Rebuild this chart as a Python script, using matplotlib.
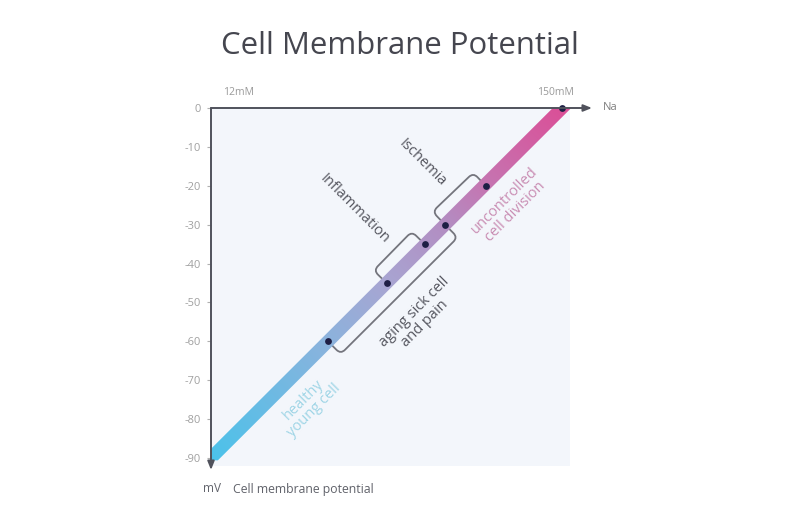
import numpy as np
import matplotlib
matplotlib.use("Agg")
import matplotlib.pyplot as plt
from matplotlib.patches import Polygon, PathPatch, Rectangle
from matplotlib.path import Path
from matplotlib.transforms import IdentityTransform
from matplotlib.colors import LinearSegmentedColormap

plt.rcParams['font.family'] = ['Open Sans', 'DejaVu Sans']

# ---------------- data ----------------
title = "Cell Membrane Potential"
potential_ticks = [0, -10, -20, -30, -40, -50, -60, -70, -80, -90]
potential_labels = ["0", "-10", "-20", "-30", "-40", "-50", "-60", "-70", "-80", "-90"]
sodium_labels = ["12mM", "150mM"]
sodium_label_pos = [12, 150]

line_na = [12, 150]        # Na concentration (mM) at the ends of the band
line_mv = [-90, 0]         # potential (mV) at the ends of the band

stage_na = [58, 81, 96, 104, 120, 150]
stage_mv = [-60, -45, -35, -30, -20, 0]

# brackets: (start index, end index, side)  side=+1 upper-left, -1 lower-right
bracket_idx = [(0, 3, -1), (1, 2, 1), (3, 4, 1)]

stage_texts = ["Inflammation", "Ischemia", "uncontrolled\ncell division",
               "aging sick cell\nand pain", "healthy\nyoung cell"]
stage_text_na = [68.5, 95.0, 129.5, 94.0, 50.5]
stage_text_mv = [-26.0, -14.2, -25.3, -54.0, -76.4]
stage_text_rot = [-45, -45, 45, 45, 45]
stage_text_col = ["#55565f", "#55565f", "#c98db3", "#55565f", "#9fd5e6"]

band_colors = ["#4cc2ea", "#8bb3dd", "#a8a5d2", "#b38dc2", "#c576b2", "#da5098"]
band_stops = [0.0, 0.33, 0.5, 0.67, 0.78, 1.0]

# ---------------- figure ----------------
W, H = 800, 524
fig = plt.figure(figsize=(W / 100, H / 100), dpi=100)
fig.patch.set_facecolor("white")

# axes box in pixels
x0p, x1p, ytop, ybot = 211, 592, 108, 470
ax = fig.add_axes([x0p / W, 1 - ybot / H, (x1p - x0p) / W, (ybot - ytop) / H])
px_per_mv = 350 / 90.0
mm_per_px = 138 / 351.0
ax.set_ylim(-(ybot - ytop) / px_per_mv, 0)
ax.set_xlim(12, 12 + (x1p - x0p) * mm_per_px)
ax.set_facecolor("none")
for s in ax.spines.values():
    s.set_visible(False)

# light tinted plotting field
ax.add_patch(Rectangle((12, -(466 - ytop) / px_per_mv), (570 - x0p) * mm_per_px,
                       (466 - ytop) / px_per_mv, facecolor="#f3f6fb", edgecolor="none", zorder=0))

# axes arrows
ax.annotate("", xy=(1, 1), xytext=(0, 1), xycoords="axes fraction",
            arrowprops=dict(arrowstyle="-|>,head_length=0.5,head_width=0.2", color="#50525c", lw=1.4,
                            shrinkA=0, shrinkB=0), zorder=6)
ax.annotate("", xy=(0, 0), xytext=(0, 1), xycoords="axes fraction",
            arrowprops=dict(arrowstyle="-|>,head_length=0.5,head_width=0.2", color="#50525c", lw=1.4,
                            shrinkA=0, shrinkB=0), zorder=6)

ax.set_yticks(potential_ticks)
ax.set_yticklabels(potential_labels)
ax.tick_params(axis="y", length=3, width=0.8, color="#b0b0b0", labelcolor="#a0a0a0",
               labelsize=8, pad=4)
ax.set_xticks([])

# ---------------- gradient band ----------------
T = ax.transData
pA = T.transform((line_na[0], line_mv[0]))
pB = T.transform((line_na[1], line_mv[1]))
slope = (pB[1] - pA[1]) / (pB[0] - pA[0])
half_w = 6.5 * np.sqrt(1 + slope ** 2) / slope  # horizontal half width in px
yb = T.transform((0, -90.6))[1]
yt = pB[1]
def x_on(y):
    return pA[0] + (y - pA[1]) / slope
band_poly = Polygon([(x_on(yb) - half_w, yb), (x_on(yb) + half_w, yb),
                     (x_on(yt) + half_w, yt), (x_on(yt) - half_w, yt)],
                    closed=True, transform=IdentityTransform(), facecolor="none", edgecolor="none")
ax.add_patch(band_poly)

cmap = LinearSegmentedColormap.from_list("band", list(zip(band_stops, band_colors)))
xlo, xhi = ax.get_xlim()
ylo, yhi = ax.get_ylim()
gx, gy = np.meshgrid(np.linspace(xlo, xhi, 400), np.linspace(ylo, yhi, 400))
tt = ((gx - line_na[0]) / (line_na[1] - line_na[0]) + (gy - line_mv[0]) / (line_mv[1] - line_mv[0])) / 2
im = ax.imshow(tt, extent=[xlo, xhi, ylo, yhi], origin="lower", cmap=cmap, vmin=0, vmax=1,
               aspect="auto", zorder=3, interpolation="bilinear")
im.set_clip_path(band_poly)

# ---------------- brackets ----------------
def bracket(i, j, side, d=18.0, r=6.0, start=6.0):
    p1 = T.transform((stage_na[i], stage_mv[i]))
    p2 = T.transform((stage_na[j], stage_mv[j]))
    u = (p2 - p1) / np.linalg.norm(p2 - p1)
    n = np.array([-u[1], u[0]]) * side
    verts = [p1 + n * start, p1 + n * (d - r), p1 + n * d, p1 + n * d + u * r,
             p2 + n * d - u * r, p2 + n * d, p2 + n * (d - r), p2 + n * start]
    codes = [Path.MOVETO, Path.LINETO, Path.CURVE3, Path.CURVE3,
             Path.LINETO, Path.CURVE3, Path.CURVE3, Path.LINETO]
    ax.add_patch(PathPatch(Path(verts, codes), transform=IdentityTransform(), facecolor="none",
                           edgecolor="#74757d", lw=1.3, zorder=2, capstyle="round", joinstyle="round"))

for i, j, side in bracket_idx:
    bracket(i, j, side)

ax.scatter(stage_na, stage_mv, s=24, color="#1e1f45", zorder=5, clip_on=False, linewidths=0)

# ---------------- texts ----------------
for t, xx, yy, rot, c in zip(stage_texts, stage_text_na, stage_text_mv, stage_text_rot, stage_text_col):
    ax.text(xx, yy, t, rotation=rot, rotation_mode="anchor", ha="center", va="center",
            fontsize=10.5, color=c, linespacing=1.05, zorder=6)

for lab, xv in zip(sodium_labels, sodium_label_pos):
    ax.annotate(lab, xy=(xv, 0), xytext=(9 if xv == 12 else -5, 7), textcoords="offset points",
                ha="left" if xv == 12 else "center", va="bottom", fontsize=7.5, color="#9a9a9a",
                annotation_clip=False)

fig.text(603 / W, 1 - 107 / H, "Na", ha="left", va="center", fontsize=8, color="#808080")
fig.text(203 / W, 1 - 489 / H, "mV", ha="left", va="center", fontsize=8.5, color="#60626a")
fig.text(233 / W, 1 - 489 / H, "Cell membrane potential", ha="left", va="center",
         fontsize=8.8, color="#60626a")

fig.text(0.5, 1 - 46 / H, title, ha="center", va="center", fontsize=22.4, color="#45464f")

fig.savefig("out.png", dpi=100, facecolor="white")
